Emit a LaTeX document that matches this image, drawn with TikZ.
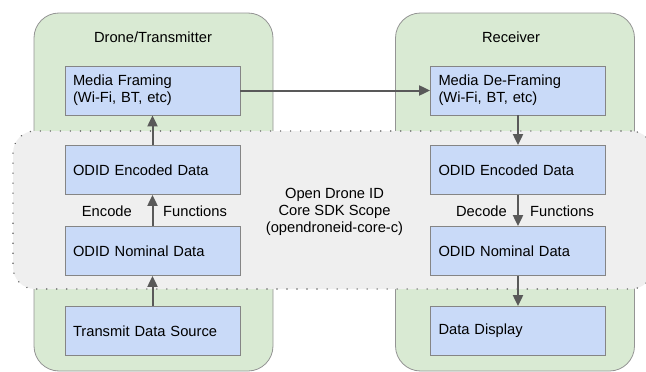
\documentclass[tikz,border=0pt]{standalone}
\usepackage{fontspec}
\setmainfont{Liberation Sans}
\usetikzlibrary{arrows.meta}
\definecolor{greenfill}{HTML}{D9EAD3}
\definecolor{bluefill}{HTML}{C9DAF8}
\definecolor{grayfill}{HTML}{EFEFEF}
\definecolor{edgegray}{HTML}{666666}
\definecolor{arrowgray}{HTML}{595959}
\begin{document}
\begin{tikzpicture}[x=1pt,y=-1pt,
  every node/.style={font=\fontsize{14.7}{17}\selectfont},
  side/.style={draw=edgegray!70, fill=greenfill, line width=0.8pt, rounded corners=25pt, minimum width=239pt, minimum height=358pt, inner sep=0pt},
  scope/.style={draw=edgegray, fill=grayfill, line width=1.6pt, dash pattern=on 0.01pt off 10pt, line cap=round, rounded corners=22pt, minimum width=640pt, minimum height=158pt, inner sep=0pt},
  blk/.style={draw=edgegray!80, fill=bluefill, line width=0.8pt, minimum width=175pt, minimum height=49pt, text width=159pt, inner xsep=8pt, inner ysep=0pt, align=left},
  flow/.style={draw=arrowgray, line width=2pt, -{Triangle[length=11pt,width=10pt]}},
  lbl/.style={inner sep=0pt}
]
\useasboundingbox (0,0) rectangle (646,372);
\begin{scope}
\clip (0,0) rectangle (646,372);
\node[side] (tx) at (153.5,192) {};
\node[side] (rx) at (515,192) {};
\node[scope] (sdk) at (333,210) {};
\end{scope}
\node[lbl] (txt) at (153,37) {Drone/Transmitter};
\node[lbl] (rxt) at (511,37) {Receiver};
\node[align=center, inner sep=0pt] (sdkt) at (334.5,212) {Open Drone ID\\Core SDK Scope\\(opendroneid-core-c)};

\node[blk] (mf) at (152.5,90.5) {Media Framing\\(Wi-Fi, BT, etc)};
\node[blk] (enc) at (152.5,170) {ODID Encoded Data};
\node[blk] (nom) at (152.5,251) {ODID Nominal Data};
\node[blk] (src) at (152.5,331) {Transmit Data Source};

\node[blk] (mdf) at (518,90.5) {Media De-Framing\\(Wi-Fi, BT, etc)};
\node[blk] (renc) at (518,170) {ODID Encoded Data};
\node[blk] (rnom) at (518,251) {ODID Nominal Data};
\node[blk] (disp) at (518,331) {Data Display};

\draw[flow] (src) -- (nom);
\draw[flow] (nom) -- (enc);
\draw[flow] (enc) -- (mf);
\draw[flow] (mf) -- (mdf);
\draw[flow] (mdf) -- (renc);
\draw[flow] (renc) -- (rnom);
\draw[flow] (rnom) -- (disp);

\node[lbl, anchor=east] (encl) at (132,211) {Encode};
\node[lbl, anchor=west] (fl) at (163,211) {Functions};
\node[lbl, anchor=east] (decl) at (507,211) {Decode};
\node[lbl, anchor=west] (fr) at (530,211) {Functions};
\end{tikzpicture}
\end{document}
